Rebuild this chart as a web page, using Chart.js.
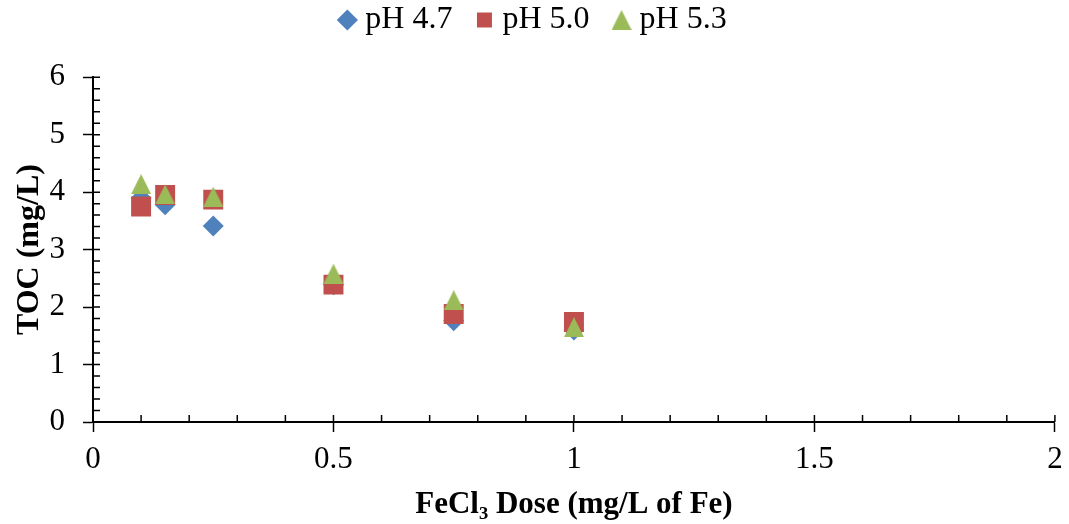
<!DOCTYPE html>
<html><head><meta charset="utf-8">
<script src="https://cdn.jsdelivr.net/npm/chart.js@4"></script>
<style>html,body{margin:0;padding:0;background:#fff}#wrap{width:1069px;height:524px;position:relative}</style>
</head><body><div id="wrap"><canvas id="c"></canvas></div>
<script>
// Data
const doses = [0.1, 0.15, 0.25, 0.5, 0.75, 1.0];
const tocPH47 = [3.90, 3.78, 3.41, 2.39, 1.76, 1.60];
const tocPH50 = [3.75, 3.95, 3.87, 2.39, 1.88, 1.74];
const tocPH53 = [4.14, 3.96, 3.92, 2.58, 2.12, 1.65];
const seriesNames = ['pH 4.7', 'pH 5.0', 'pH 5.3'];
const xTickValues = [0, 0.5, 1, 1.5, 2];
const xTickLabels = ['0', '0.5', '1', '1.5', '2'];
const yTickValues = [0, 1, 2, 3, 4, 5, 6];
const yTickLabels = ['0', '1', '2', '3', '4', '5', '6'];
const xTitle = 'FeCl\u2083 Dose (mg/L of Fe)';
const yTitle = 'TOC (mg/L)';

const BLUE = '#4F81BD', RED = '#C0504D', GREEN = '#9BBB59';
const SERIF = '"Liberation Serif", "Times New Roman", serif';

function triangleImage(w, h, color) {
  const c = document.createElement('canvas');
  c.width = w; c.height = h;
  const g = c.getContext('2d');
  g.fillStyle = color;
  g.beginPath();
  g.moveTo(w / 2, 0); g.lineTo(w, h); g.lineTo(0, h); g.closePath();
  g.fill();
  return c;
}
const tri = triangleImage(20, 20, GREEN);

const pts = vals => doses.map((d, i) => ({x: d, y: vals[i]}));

const minorTicks = {
  id: 'minorTicks',
  afterDraw(chart) {
    const {ctx, chartArea} = chart;
    const xs = chart.scales.x, ys = chart.scales.y;
    ctx.save();
    ctx.strokeStyle = '#000';
    ctx.lineWidth = 1.5;
    ctx.beginPath();
    for (let i = 1; i <= 20; i++) {
      const px = xs.getPixelForValue(i / 10);
      ctx.moveTo(px, chartArea.bottom);
      ctx.lineTo(px, chartArea.bottom - 7);
    }
    for (let j = 1; j <= 30; j++) {
      const py = ys.getPixelForValue(j / 5);
      ctx.moveTo(chartArea.left, py);
      ctx.lineTo(chartArea.left + 7, py);
    }
    ctx.stroke();
    ctx.restore();
  }
};

new Chart(document.getElementById('c'), {
  type: 'scatter',
  data: {
    datasets: [
      {label: seriesNames[0], data: pts(tocPH47), pointStyle: 'rectRot', pointRadius: 10.5,
       backgroundColor: BLUE, borderColor: BLUE, borderWidth: 0, order: 3},
      {label: seriesNames[1], data: pts(tocPH50), pointStyle: 'rect', pointRadius: 14.1,
       backgroundColor: RED, borderColor: RED, borderWidth: 0, order: 2},
      {label: seriesNames[2], data: pts(tocPH53), pointStyle: tri, pointRadius: 10,
       backgroundColor: GREEN, borderColor: GREEN, borderWidth: 0, order: 1}
    ]
  },
  options: {
    responsive: true,
    maintainAspectRatio: false,
    animation: false,
    events: [],
    layout: {padding: {top: -26, right: 0, left: 3, bottom: 0}},
    plugins: {
      tooltip: {enabled: false},
      title: {display: true, text: '', padding: {top: 0, bottom: 30}, font: {size: 1}, weight: 0, position: 'top'},
      legend: {
        position: 'top',
        labels: {
          usePointStyle: true,
          boxWidth: 4,
          boxHeight: 15,
          padding: 30,
          color: '#000',
          font: {family: SERIF, size: 32},
          sort: (a, b) => a.datasetIndex - b.datasetIndex
        }
      }
    },
    scales: {
      x: {
        type: 'linear', min: 0, max: 2,
        afterBuildTicks: s => { s.ticks = xTickValues.map(v => ({value: v})); },
        afterFit: s => { s.height = 102; s.paddingRight = 12; s.paddingLeft = 0; },
        grid: {drawOnChartArea: false, drawTicks: true, tickLength: 10, tickColor: '#000', tickWidth: 1.5},
        border: {display: true, color: '#000', width: 2},
        ticks: {color: '#000', padding: 9, font: {family: SERIF, size: 31}, maxRotation: 0,
                callback: (v, i) => xTickLabels[i]},
        title: {display: true, text: xTitle, color: '#000', padding: {top: 0, bottom: 0},
                font: {family: SERIF, size: 31, weight: 'bold'}}
      },
      y: {
        type: 'linear', min: 0, max: 6,
        afterBuildTicks: s => { s.ticks = yTickValues.map(v => ({value: v})); },
        afterFit: s => { s.width = 90; },
        grid: {drawOnChartArea: false, drawTicks: true, tickLength: 10, tickColor: '#000', tickWidth: 1.5},
        border: {display: true, color: '#000', width: 2},
        ticks: {color: '#000', padding: 18, font: {family: SERIF, size: 31},
                callback: (v, i) => yTickLabels[i]},
        title: {display: true, text: yTitle, color: '#000', padding: {top: 8, bottom: 0},
                font: {family: SERIF, size: 32, weight: 'bold'}}
      }
    }
  },
  plugins: [minorTicks]
});
</script>
</body></html>
